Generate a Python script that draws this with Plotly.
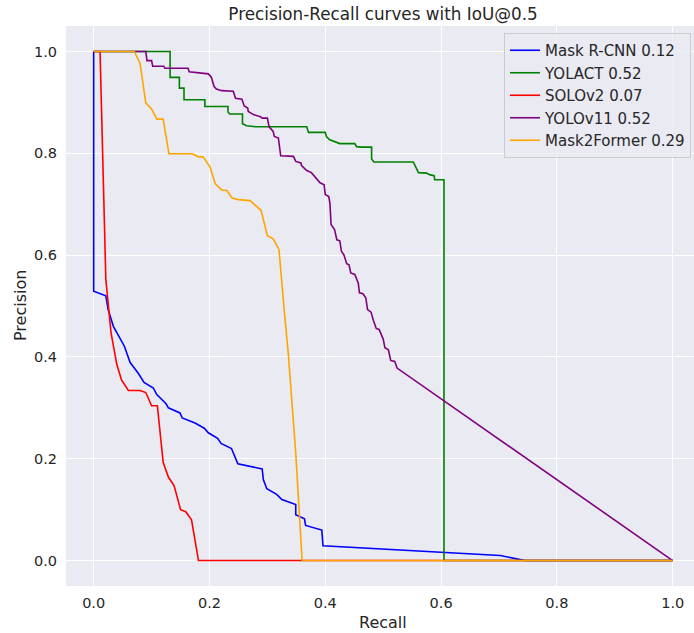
import plotly.graph_objects as go

model_names = ["Mask R-CNN", "YOLACT", "SOLOv2", "YOLOv11", "Mask2Former"]
ap_values = [0.12, 0.52, 0.07, 0.52, 0.29]
line_colors = ["blue", "green", "red", "purple", "orange"]

mask_rcnn_recall = [0.0, 0.0, 0.021, 0.025, 0.034, 0.053, 0.063, 0.077, 0.087, 0.103, 0.109, 0.125, 0.129,
                    0.149, 0.153, 0.175, 0.191, 0.198, 0.214, 0.220, 0.238, 0.242, 0.249, 0.291, 0.293,
                    0.299, 0.316, 0.325, 0.349, 0.349, 0.364, 0.366, 0.394, 0.396, 0.702, 0.745, 1.0]
mask_rcnn_precision = [1.0, 0.529, 0.520, 0.493, 0.460, 0.421, 0.389, 0.368, 0.350, 0.339, 0.326, 0.308, 0.300,
                       0.290, 0.280, 0.270, 0.260, 0.251, 0.240, 0.230, 0.220, 0.208, 0.190, 0.180, 0.159,
                       0.141, 0.130, 0.120, 0.110, 0.090, 0.082, 0.069, 0.060, 0.029, 0.010, 0.0, 0.0]

yolact_recall = [0.0, 0.132, 0.132, 0.148, 0.148, 0.156, 0.156, 0.192, 0.192, 0.232,
                 0.232, 0.235, 0.257, 0.257, 0.264, 0.280, 0.368, 0.371, 0.400, 0.402,
                 0.407, 0.417, 0.425, 0.451, 0.454, 0.463, 0.480, 0.480, 0.484, 0.552,
                 0.555, 0.561, 0.575, 0.580, 0.588, 0.589, 0.605, 0.605, 1.0]
yolact_precision = [1.0, 1.0, 0.949, 0.949, 0.928, 0.928, 0.905, 0.905, 0.892, 0.892,
                    0.881, 0.877, 0.877, 0.858, 0.854, 0.852, 0.852, 0.841, 0.841, 0.833,
                    0.827, 0.823, 0.819, 0.819, 0.813, 0.812, 0.812, 0.789, 0.783, 0.783,
                    0.776, 0.762, 0.761, 0.758, 0.756, 0.748, 0.748, 0.0, 0.0]

solov2_recall = [0.0, 0.011, 0.021, 0.030, 0.040, 0.048, 0.060, 0.080, 0.090, 0.100, 0.110,
                 0.120, 0.129, 0.139, 0.150, 0.159, 0.169, 0.181, 1.0]
solov2_precision = [1.0, 1.0, 0.552, 0.447, 0.385, 0.355, 0.334, 0.334, 0.330, 0.304, 0.304,
                    0.193, 0.164, 0.147, 0.100, 0.096, 0.080, 0.0, 0.0]

yolov11_recall = [0.0, 0.090, 0.092, 0.100, 0.102, 0.121, 0.123, 0.163, 0.165, 0.181,
                  0.198, 0.203, 0.208, 0.212, 0.221, 0.241, 0.245, 0.256, 0.260, 0.266,
                  0.267, 0.276, 0.288, 0.291, 0.300, 0.303, 0.310, 0.312, 0.319, 0.323,
                  0.345, 0.349, 0.358, 0.359, 0.368, 0.376, 0.385, 0.391, 0.398, 0.400,
                  0.406, 0.408, 0.410, 0.416, 0.420, 0.425, 0.428, 0.432, 0.437, 0.441,
                  0.444, 0.451, 0.457, 0.459, 0.465, 0.470, 0.473, 0.479, 0.483, 0.488,
                  0.493, 0.500, 0.503, 0.509, 0.513, 0.520, 0.524, 1.0]
yolov11_precision = [1.0, 1.0, 0.982, 0.982, 0.971, 0.971, 0.967, 0.967, 0.960, 0.958,
                     0.956, 0.950, 0.931, 0.926, 0.923, 0.922, 0.908, 0.906, 0.893, 0.889,
                     0.882, 0.876, 0.872, 0.869, 0.869, 0.852, 0.843, 0.833, 0.830, 0.795,
                     0.794, 0.784, 0.781, 0.776, 0.766, 0.762, 0.751, 0.742, 0.738, 0.719,
                     0.715, 0.702, 0.660, 0.650, 0.630, 0.628, 0.607, 0.601, 0.583, 0.581,
                     0.565, 0.562, 0.545, 0.526, 0.524, 0.516, 0.493, 0.488, 0.472, 0.456,
                     0.454, 0.435, 0.418, 0.414, 0.393, 0.391, 0.378, 0.0]

mask2former_recall = [0.0, 0.070, 0.080, 0.090, 0.100, 0.109, 0.120, 0.130, 0.170, 0.181, 0.189,
                      0.201, 0.210, 0.221, 0.230, 0.239, 0.250, 0.270, 0.289, 0.300, 0.310,
                      0.320, 0.329, 0.336, 0.349, 0.360, 1.0]
mask2former_precision = [1.0, 1.0, 0.977, 0.899, 0.887, 0.867, 0.867, 0.799, 0.799, 0.793, 0.793,
                         0.773, 0.740, 0.728, 0.727, 0.712, 0.709, 0.707, 0.688, 0.638, 0.632,
                         0.611, 0.493, 0.408, 0.211, 0.0, 0.0]

x_ticks = [0.0, 0.2, 0.4, 0.6, 0.8, 1.0]
y_ticks = [0.0, 0.2, 0.4, 0.6, 0.8, 1.0]

curves = [
    (mask_rcnn_recall, mask_rcnn_precision),
    (yolact_recall, yolact_precision),
    (solov2_recall, solov2_precision),
    (yolov11_recall, yolov11_precision),
    (mask2former_recall, mask2former_precision),
]

FONT = "DejaVu Sans"
TXT = "#262626"
W, H = 694, 633
ML, MR, MT, MB = 66, 0, 26, 47

fig = go.Figure()
for name, ap, color, (r, p) in zip(model_names, ap_values, line_colors, curves):
    fig.add_trace(go.Scatter(
        x=r, y=p, mode="lines", name=f"{name} {ap:.2f}",
        line=dict(color=color, width=1.6),
    ))

fig.update_layout(
    width=W, height=H,
    margin=dict(l=ML, r=MR, t=MT, b=MB, autoexpand=False),
    paper_bgcolor="white",
    plot_bgcolor="#EAEAF2",
    font=dict(family=FONT, color=TXT, size=15),
    title=dict(text="Precision-Recall curves with IoU@0.5", xref="container", x=383 / W,
               xanchor="center", yref="container", y=1 - 14.5 / H, yanchor="middle",
               font=dict(size=16.8, color=TXT)),
    xaxis=dict(range=[-0.0478, 1.0368], tickvals=x_ticks, tickformat=".1f",
               showgrid=True, gridcolor="white", gridwidth=1.3, zeroline=False,
               showline=False, ticks="", tickfont=dict(size=14.5), automargin=False,
               ticklabelstandoff=6),
    yaxis=dict(range=[-0.05, 1.05], tickvals=y_ticks, tickformat=".1f",
               showgrid=True, gridcolor="white", gridwidth=1.3, zeroline=False,
               showline=False, ticks="", tickfont=dict(size=14.5), automargin=False,
               ticklabelstandoff=8),
    legend=dict(x=(504 - ML) / (W - ML - MR), xanchor="left", y=1 - (33 - MT) / (H - MT - MB),
                yanchor="top",
                bgcolor="rgba(234,234,242,0.8)", bordercolor="#CCCCCC", borderwidth=1,
                font=dict(size=15, color=TXT)),
    showlegend=True,
    annotations=[
        dict(text="Recall", xref="paper", x=(383 - ML) / (W - ML - MR), yref="paper",
             y=-(622 - (H - MB)) / (H - MT - MB), xanchor="center", yanchor="middle",
             showarrow=False, font=dict(size=16, color=TXT)),
        dict(text="Precision", xref="paper", x=-(ML - 20) / (W - ML - MR), yref="paper",
             y=0.5, xanchor="center", yanchor="middle", textangle=-90,
             showarrow=False, font=dict(size=16, color=TXT)),
    ],
)

fig.write_html(
    "out.html",
    config={"displayModeBar": False},
    post_script="document.body.style.margin='0';document.body.style.overflow='hidden';",
)
